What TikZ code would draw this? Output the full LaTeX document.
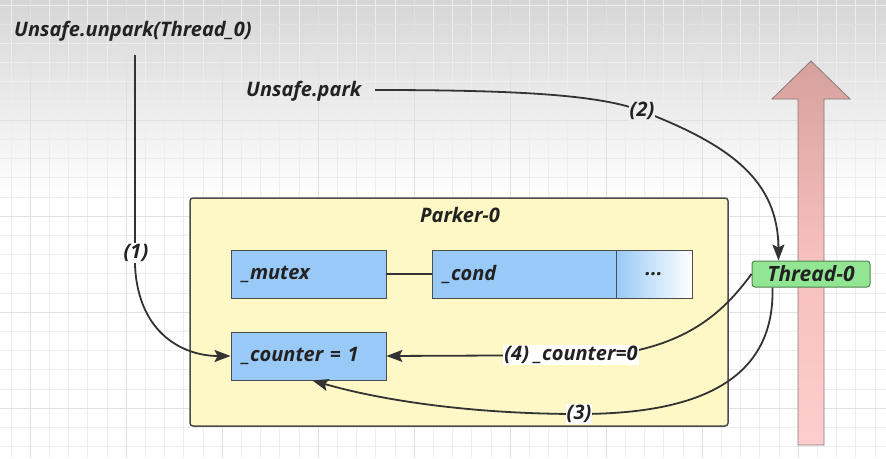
\documentclass[tikz,border=0pt]{standalone}
\usepackage{fontspec}
\setmainfont{Open Sans}
\usetikzlibrary{arrows.meta}
\definecolor{txtc}{HTML}{222222}
\definecolor{linec}{HTML}{333333}
\definecolor{fieldblue}{HTML}{99C9F7}
\definecolor{parkerfill}{HTML}{FDF8C6}
\definecolor{threadfill}{HTML}{92E592}
\definecolor{threaddraw}{RGB}{80,130,80}
\definecolor{gridc}{HTML}{EDEDED}
\definecolor{gridd}{HTML}{E0E0E0}
\definecolor{redtop}{RGB}{214,160,156}
\definecolor{redmid}{RGB}{246,192,190}
\definecolor{redbot}{RGB}{253,205,205}
\definecolor{reddraw}{RGB}{140,120,120}
\begin{document}
\begin{tikzpicture}[x=1pt,y=-1pt,
  font=\bfseries\itshape\fontsize{20}{24}\selectfont,
  txt/.style={text=txtc, inner sep=1pt},
  lab/.style={text=txtc, inner sep=1pt, fill=white},
  field/.style={draw=black!70, line width=0.9pt, fill=fieldblue, minimum height=48pt,
     text=txtc, align=left, inner xsep=11pt, inner ysep=0pt},
  conn/.style={draw=linec, line width=1.8pt, -{Stealth[length=16pt,width=12pt,inset=3pt]}},
  plain/.style={draw=linec, line width=1.8pt}]
% background
\useasboundingbox (0,0) rectangle (886,458);
\fill[white] (0,0) rectangle (886,458);
\shade[top color=black!16, bottom color=white] (0,0) rectangle (886,200);
\foreach \i in {0,...,46} \draw[gridc, line width=0.8pt] ({10.9+\i*19.2},0) -- ({10.9+\i*19.2},458);
\foreach \i in {0,...,24} \draw[gridc, line width=0.8pt] (0,{5+\i*19.2}) -- (886,{5+\i*19.2});
\foreach \i in {0,...,9} \draw[gridd, line width=0.8pt] ({30.1+\i*96},0) -- ({30.1+\i*96},458);
\foreach \i in {0,...,4} \draw[gridd, line width=0.8pt] (0,{24.2+\i*96}) -- (886,{24.2+\i*96});
% thread time arrow
\shade[top color=redtop, bottom color=redbot, middle color=redmid]
  (798,445) -- (798,99) -- (772,99) -- (811,61) -- (850,99) -- (824,99) -- (824,445) -- cycle;
\draw[reddraw, line width=0.8pt]
  (798,445) -- (798,99) -- (772,99) -- (811,61) -- (850,99) -- (824,99) -- (824,445) -- cycle;
% parker box
\node[draw=black!70, line width=1.5pt, fill=parkerfill, rounded corners=3pt,
  minimum width=538pt, minimum height=228pt, inner sep=0pt] (parker) at (459,312) {};
\node[txt] (ptitle) at (460,215) {Parker-0};
\node[field, text width=133pt] (mutex) at (308.5,274) {\_mutex};
\node[field, text width=162pt] (cond) at (524,274) {\_cond};
\node[draw=black!70, line width=0.9pt, left color=fieldblue, right color=white,
  minimum width=76pt, minimum height=48pt, inner sep=0pt, text=txtc] (dots) at (654,274) {...};
\node[field, text width=133pt] (counter) at (308.5,356) {\_counter = 1};
\draw[plain] (mutex.east) -- (cond.west);
% thread node
\node[draw=threaddraw, line width=1pt, fill=threadfill, rounded corners=3pt,
  minimum width=118pt, minimum height=26pt, inner sep=0pt, text=txtc,
  font=\bfseries\itshape\fontsize{21}{24}\selectfont] (thread) at (811,274) {Thread-0};
% texts
\node[txt, anchor=west] (unpark) at (13,31) {Unsafe.unpark(Thread\_0)};
\node[txt, anchor=west] (park) at (245,91) {Unsafe.park};
\coordinate (u1) at (135,55);
\coordinate (p1) at (375,90);
% (1)
\draw[conn] (u1) -- (135,265) .. controls (138,335) and (185,356) .. (counter.west);
\node[lab] (l1) at (136,253) {(1)};
% (2)
\draw[conn] (p1) .. controls (520,90) and (600,95) .. (642,111)
  .. controls (730,145) and (778,180) .. ([xshift=27pt]thread.north west);
\node[txt, fill=black!7] (l2) at (642,111) {(2)};
% (4)
\draw[conn] (thread.west) .. controls (725,310) and (690,345) .. (610,355) -- (counter.east);
\node[lab] (l4) at (571,355) {(4) \_counter=0};
% (3)
\draw[conn] ([xshift=21pt]thread.south west) .. controls (775,385) and (690,414) .. (579,414)
  .. controls (470,414) and (380,400) .. ([xshift=4pt]counter.south);
\node[lab] (l3) at (579,414) {(3)};
\end{tikzpicture}
\end{document}
